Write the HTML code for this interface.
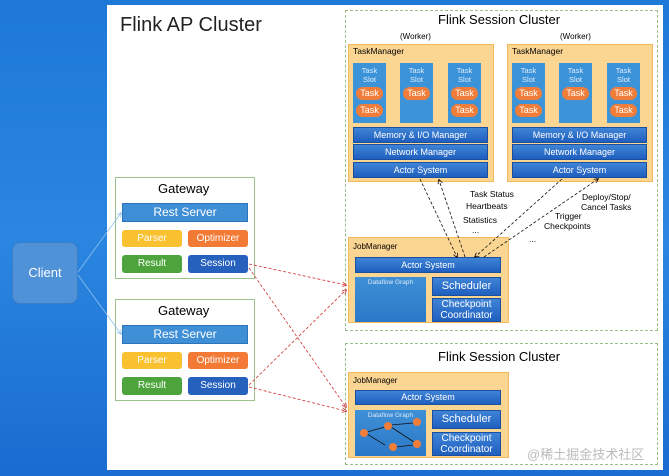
<!DOCTYPE html>
<html><head><meta charset="utf-8"><style>
body{margin:0;width:669px;height:476px;overflow:hidden;font-family:"Liberation Sans","Noto Sans CJK SC",sans-serif;background:linear-gradient(180deg,#1d78d8 0%,#2a86e0 50%,#1a6cd0 100%);position:relative}
div{position:absolute;box-sizing:border-box}
.t{white-space:nowrap}
.bar{background:linear-gradient(#3f84d6,#1f5fbf);color:#fff;font-size:9px;text-align:center;border:1px solid #1a4f9f}
.slot{background:#3d93d8;color:#dfefff;font-size:7.5px;text-align:center;line-height:9px;padding-top:3px}
.task{position:absolute;left:3px;width:27px;height:13px;border-radius:7px;background:#f07e3a;color:#fff;font-size:9px;line-height:13px;text-align:center}
.tm{background:#fbd592;border:1px solid #f3b95a}
.btn{border-radius:3px;color:#fff;font-size:10px;text-align:center}
</style></head><body>
<div style="left:107px;top:5px;width:556px;height:465px;background:#fff"></div>
<div class="t" style="left:120px;top:14px;font-size:20px;color:#222">Flink AP Cluster</div>
<div style="left:12px;top:242px;width:66px;height:62px;border-radius:8px;background:#4f92d8;border:1px solid #3b7dc8;color:#fff;font-size:13px;text-align:center;line-height:60px">Client</div>

<div style="left:115px;top:177px;width:140px;height:102px;border:1px solid #9ac28a"></div>
<div class="t" style="left:158px;top:181px;font-size:13px">Gateway</div>
<div class="bar" style="left:122px;top:203px;width:126px;height:19px;font-size:12px;line-height:17px;background:#3f8fd6;border-color:#2e74bb">Rest Server</div>
<div class="btn" style="left:122px;top:230px;width:60px;height:17px;line-height:17px;background:#f9c030">Parser</div>
<div class="btn" style="left:188px;top:230px;width:60px;height:17px;line-height:17px;background:#f27a35">Optimizer</div>
<div class="btn" style="left:122px;top:255px;width:60px;height:18px;line-height:18px;background:#4da43c">Result</div>
<div class="btn" style="left:188px;top:255px;width:60px;height:18px;line-height:18px;background:#2661bd">Session</div>

<div style="left:115px;top:299px;width:140px;height:102px;border:1px solid #9ac28a"></div>
<div class="t" style="left:158px;top:303px;font-size:13px">Gateway</div>
<div class="bar" style="left:122px;top:325px;width:126px;height:19px;font-size:12px;line-height:17px;background:#3f8fd6;border-color:#2e74bb">Rest Server</div>
<div class="btn" style="left:122px;top:352px;width:60px;height:17px;line-height:17px;background:#f9c030">Parser</div>
<div class="btn" style="left:188px;top:352px;width:60px;height:17px;line-height:17px;background:#f27a35">Optimizer</div>
<div class="btn" style="left:122px;top:377px;width:60px;height:18px;line-height:18px;background:#4da43c">Result</div>
<div class="btn" style="left:188px;top:377px;width:60px;height:18px;line-height:18px;background:#2661bd">Session</div>

<div style="left:345px;top:10px;width:313px;height:321px;border:1px dashed #9bbf8a"></div>
<div class="t" style="left:438px;top:12px;font-size:13px">Flink Session Cluster</div>
<div class="t" style="left:400px;top:32px;font-size:8px">(Worker)</div>
<div class="t" style="left:560px;top:32px;font-size:8px">(Worker)</div>

<div class="tm" style="left:348px;top:44px;width:146px;height:138px"></div>
<div class="t" style="left:353px;top:46px;font-size:8.5px">TaskManager</div>
<div class="slot" style="left:353px;top:63px;width:33px;height:60px">Task<br>Slot<div class="task" style="top:24px">Task</div><div class="task" style="top:41px">Task</div></div>
<div class="slot" style="left:400px;top:63px;width:33px;height:60px">Task<br>Slot<div class="task" style="top:24px">Task</div></div>
<div class="slot" style="left:448px;top:63px;width:33px;height:60px">Task<br>Slot<div class="task" style="top:24px">Task</div><div class="task" style="top:41px">Task</div></div>
<div class="bar" style="left:353px;top:127px;width:135px;height:16px;line-height:14px">Memory &amp; I/O Manager</div>
<div class="bar" style="left:353px;top:144px;width:135px;height:16px;line-height:14px">Network Manager</div>
<div class="bar" style="left:353px;top:162px;width:135px;height:16px;line-height:14px">Actor System</div>

<div class="tm" style="left:507px;top:44px;width:146px;height:138px"></div>
<div class="t" style="left:512px;top:46px;font-size:8.5px">TaskManager</div>
<div class="slot" style="left:512px;top:63px;width:33px;height:60px">Task<br>Slot<div class="task" style="top:24px">Task</div><div class="task" style="top:41px">Task</div></div>
<div class="slot" style="left:559px;top:63px;width:33px;height:60px">Task<br>Slot<div class="task" style="top:24px">Task</div></div>
<div class="slot" style="left:607px;top:63px;width:33px;height:60px">Task<br>Slot<div class="task" style="top:24px">Task</div><div class="task" style="top:41px">Task</div></div>
<div class="bar" style="left:512px;top:127px;width:135px;height:16px;line-height:14px">Memory &amp; I/O Manager</div>
<div class="bar" style="left:512px;top:144px;width:135px;height:16px;line-height:14px">Network Manager</div>
<div class="bar" style="left:512px;top:162px;width:135px;height:16px;line-height:14px">Actor System</div>

<div class="t" style="left:470px;top:189px;font-size:8.5px">Task Status</div>
<div class="t" style="left:466px;top:201px;font-size:8.5px">Heartbeats</div>
<div class="t" style="left:463px;top:215px;font-size:8.5px">Statistics</div>
<div class="t" style="left:472px;top:225px;font-size:8.5px">...</div>
<div class="t" style="left:582px;top:192px;font-size:8.5px">Deploy/Stop/</div>
<div class="t" style="left:581px;top:202px;font-size:8.5px">Cancel Tasks</div>
<div class="t" style="left:555px;top:211px;font-size:8.5px">Trigger</div>
<div class="t" style="left:544px;top:221px;font-size:8.5px">Checkpoints</div>
<div class="t" style="left:529px;top:234px;font-size:8.5px">...</div>

<div class="tm" style="left:348px;top:237px;width:161px;height:86px"></div>
<div class="t" style="left:353px;top:242px;font-size:8px">JobManager</div>
<div class="bar" style="left:355px;top:257px;width:146px;height:16px;line-height:14px">Actor System</div>
<div style="left:355px;top:277px;width:71px;height:45px;background:linear-gradient(#3f90d6,#2b78c8);color:#dce9f7;font-size:6.5px;text-align:center;padding-top:2px">Dataflow Graph</div>
<div class="bar" style="left:432px;top:277px;width:69px;height:19px;font-size:11px;line-height:17px">Scheduler</div>
<div class="bar" style="left:432px;top:298px;width:69px;height:24px;font-size:10px;line-height:11px">Checkpoint<br>Coordinator</div>

<div style="left:345px;top:343px;width:313px;height:122px;border:1px dashed #9bbf8a"></div>
<div class="t" style="left:438px;top:349px;font-size:13px">Flink Session Cluster</div>
<div class="tm" style="left:348px;top:372px;width:161px;height:86px"></div>
<div class="t" style="left:353px;top:376px;font-size:8px">JobManager</div>
<div class="bar" style="left:355px;top:390px;width:146px;height:15px;line-height:13px">Actor System</div>
<div style="left:355px;top:410px;width:71px;height:46px;background:linear-gradient(#3f90d6,#2b78c8);color:#dce9f7;font-size:6.5px;text-align:center;padding-top:2px">Dataflow Graph</div>
<div class="bar" style="left:432px;top:410px;width:69px;height:19px;font-size:11px;line-height:17px">Scheduler</div>
<div class="bar" style="left:432px;top:432px;width:69px;height:24px;font-size:10px;line-height:11px">Checkpoint<br>Coordinator</div>
<div class="t" style="left:527px;top:444px;font-size:13px;color:#bbb">@稀土掘金技术社区</div>

<svg width="669" height="476" style="position:absolute;left:0;top:0">
<defs>
<marker id="k" markerWidth="6" markerHeight="6" refX="5" refY="3" orient="auto"><path d="M0,0L6,3L0,6" fill="none" stroke="#111" stroke-width="1"/></marker>
<marker id="r" markerWidth="6" markerHeight="6" refX="5" refY="3" orient="auto"><path d="M0,0L6,3L0,6" fill="none" stroke="#d03030" stroke-width="1"/></marker>
<marker id="b" markerWidth="6" markerHeight="6" refX="5" refY="3" orient="auto"><path d="M0,0L6,3L0,6" fill="none" stroke="#8ec3f0" stroke-width="1"/></marker>
</defs>
<g stroke="#8ec3f0" stroke-width="0.8" fill="none">
<path d="M78,272L121,213" marker-end="url(#b)"/><path d="M78,275L121,334" marker-end="url(#b)"/>
</g>
<g stroke="#111" stroke-width="0.8" fill="none" stroke-dasharray="3,2">
<path d="M420,179L457,257" marker-end="url(#k)"/>
<path d="M465,257L439,180" marker-end="url(#k)"/>
<path d="M562,179L475,257" marker-end="url(#k)"/>
<path d="M484,257L598,179" marker-end="url(#k)"/>
</g>
<g stroke="#111" stroke-width="0.8"><path d="M367,434L385,445M367,432L385,427M391,425L413,423M391,427L414,442M396,447L413,445"/></g>
<g fill="#f07e3a"><circle cx="364" cy="433" r="4"/><circle cx="388" cy="426" r="4"/><circle cx="393" cy="447" r="4"/><circle cx="417" cy="422" r="4"/><circle cx="417" cy="444" r="4"/></g>
<g stroke="#d03030" stroke-width="0.8" fill="none" stroke-dasharray="3,2">
<path d="M249,264L346,285" marker-end="url(#r)"/>
<path d="M249,268L346,407" marker-end="url(#r)"/>
<path d="M249,385L346,290" marker-end="url(#r)"/>
<path d="M249,387L346,411" marker-end="url(#r)"/>
</g>
</svg>
</body></html>
